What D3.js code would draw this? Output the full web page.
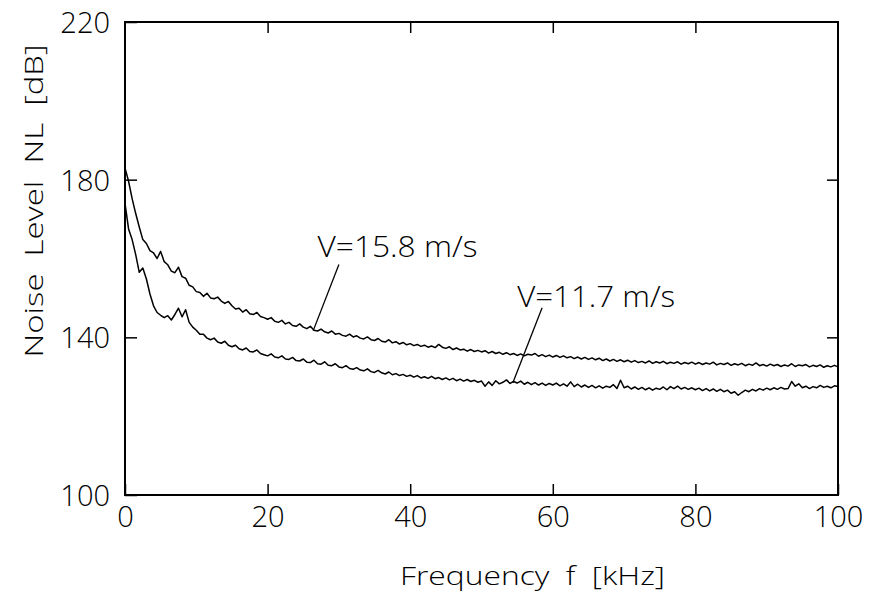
<!DOCTYPE html>
<html>
<head>
<meta charset="utf-8">
<script src="https://cdn.jsdelivr.net/npm/d3@7.9.0/dist/d3.min.js"></script>
<style>
  body { margin: 0; background: #fff; }
  svg text { font-family: "Open Sans", "DejaVu Sans", sans-serif; font-weight: 300; fill: #000; }
</style>
</head>
<body>
<svg id="chart" width="869" height="594"></svg>
<script>
// frequency grid step [kHz], values read every 0.5 kHz from 0 to 100
const fStep = 0.5;

// V = 15.8 m/s
const nl158 = [
  183.0, 179.6, 175.2, 171.4, 168.0, 164.8, 163.8, 162.0, 161.4, 160.0,
  161.8, 159.2, 158.4, 156.8, 156.4, 157.8, 155.4, 155.0, 153.2, 152.8,
  151.6, 151.4, 150.4, 151.2, 150.0, 149.8, 150.2, 149.2, 148.6, 149.1,
  148.0, 147.2, 147.4, 146.4, 147.0, 146.0, 145.8, 146.3, 145.3, 145.0,
  144.6, 145.0, 144.1, 143.8, 144.3, 143.4, 143.8, 143.0, 142.8, 143.4,
  142.6, 142.2, 142.8, 141.8, 141.6, 142.1, 141.4, 141.1, 141.6, 140.8,
  141.0, 140.5, 140.3, 140.8, 140.1, 140.4, 139.8, 139.6, 140.1, 139.4,
  139.2, 139.7, 139.0, 138.8, 139.4, 138.6, 138.9, 138.3, 138.7, 138.1,
  138.4, 137.9, 138.2, 137.7, 138.0, 137.5, 137.8, 137.4, 138.2, 137.5,
  137.2, 137.6, 136.9, 137.3, 136.8, 137.0, 136.5, 136.9, 136.4, 136.7,
  136.3, 136.6, 136.0, 136.4, 135.9, 136.2, 135.7, 136.1, 135.6, 135.9,
  135.4, 135.8, 135.3, 135.7, 135.5, 135.9, 135.2, 135.6, 135.1, 135.5,
  135.0, 135.4, 134.9, 135.3, 134.8, 135.1, 134.6, 135.0, 134.5, 134.9,
  134.4, 134.8, 134.3, 134.7, 134.1, 134.5, 134.0, 134.4, 133.9, 134.3,
  133.8, 134.2, 133.7, 134.1, 133.6, 133.9, 133.5, 134.0, 133.4, 133.8,
  133.5, 133.9, 133.3, 133.7, 133.4, 133.8, 133.2, 133.6, 133.3, 133.7,
  133.2, 133.6, 133.1, 133.5, 133.2, 133.7, 133.0, 133.4, 133.1, 133.5,
  132.9, 133.3, 133.0, 133.4, 132.8, 133.2, 132.9, 133.5, 132.8, 133.1,
  132.7, 133.2, 132.8, 133.1, 132.6, 133.0, 132.7, 133.3, 132.6, 133.0,
  132.8, 133.1, 132.5, 132.9, 132.6, 133.0, 132.4, 132.8, 132.5, 132.9,
  132.5
];

// V = 11.7 m/s
const nl117 = [
  174.0, 167.5, 164.8, 161.0, 156.5, 157.6, 154.8, 151.0, 148.0, 146.3,
  145.6, 145.0, 145.5, 144.4, 145.8, 147.4, 145.2, 147.0, 143.8, 142.6,
  141.8, 140.8, 140.8, 139.8, 139.4, 139.8, 138.8, 138.5, 139.0, 138.0,
  137.6, 138.0, 137.1, 136.8, 137.3, 136.4, 136.3, 136.8, 135.9, 135.6,
  135.3, 135.8, 135.0, 134.8, 135.3, 134.5, 134.4, 134.9, 134.1, 134.0,
  134.5, 133.7, 133.6, 134.2, 133.3, 133.2, 133.8, 132.9, 132.8, 133.3,
  132.5, 132.3, 132.8, 132.1, 131.9, 132.3, 131.7, 131.5, 132.0, 131.3,
  131.1, 131.6, 131.0, 130.7, 131.2, 130.5, 130.8, 130.3, 130.6, 130.1,
  130.4, 129.9, 130.3, 129.7, 130.0, 129.6, 130.1, 129.5, 129.8, 129.3,
  129.7, 129.2, 129.6, 129.0, 129.4, 128.9, 129.3, 128.8, 129.1, 128.6,
  128.9, 127.6, 128.7, 127.8, 129.0, 128.2, 128.6, 129.2, 128.3, 128.8,
  128.4, 128.9, 128.1, 128.6, 128.0, 128.5, 127.9, 128.4, 127.8, 128.3,
  127.9, 128.4, 127.7, 128.2, 127.6, 128.7, 127.5, 128.1, 127.4, 127.9,
  127.3, 127.8, 127.2, 127.7, 127.1, 127.6, 127.3, 128.0, 127.0, 129.1,
  127.2, 127.6, 126.9, 127.4, 126.8, 127.3, 126.7, 127.2, 126.6, 127.1,
  126.8, 127.4, 126.7, 127.5, 127.0, 127.6, 126.9, 127.3, 126.8, 127.2,
  126.7, 127.1, 126.5, 127.0, 126.4, 126.9, 126.3, 126.8, 126.2, 126.6,
  125.8, 126.2, 125.3, 126.0, 126.6, 126.2, 126.8, 126.4, 127.0, 126.6,
  127.1, 126.7, 127.2, 126.8, 127.3, 126.9, 127.0, 128.8, 127.6, 128.2,
  127.2, 127.6, 127.0, 127.5, 127.2, 127.8, 127.3, 127.6, 127.2, 127.7,
  127.5
];

const xTicks = [0, 20, 40, 60, 80, 100];
const yTicks = [100, 140, 180, 220];

// annotation: label text, label position, leader start, leader end (data units)
const notes = [
  { text: "V=15.8 m/s", f: 27.0, v: 160.3, f1: 30.0, v1: 158.5, f2: 26.4, v2: 141.7, w: 160 },
  { text: "V=11.7 m/s", f: 55.0, v: 147.8, f1: 58.5, v1: 147.5, f2: 54.4, v2: 128.5, w: 158 }
];

const svg = d3.select("#chart");
const margin = { left: 125, right: 31, top: 22, bottom: 99 };
const W = 869 - margin.left - margin.right;
const H = 594 - margin.top - margin.bottom;

const x = d3.scaleLinear().domain([0, 100]).range([0, W]);
const y = d3.scaleLinear().domain([100, 220]).range([H, 0]);

const g = svg.append("g").attr("transform", `translate(${margin.left},${margin.top})`);

// bottom axis, ticks pointing in
g.append("g").attr("transform", `translate(0,${H})`)
  .call(d3.axisBottom(x).tickValues(xTicks).tickSize(-11).tickPadding(11).tickFormat(d3.format("d")));
// top ticks
g.append("g")
  .call(d3.axisTop(x).tickValues(xTicks.slice(1, -1)).tickSize(-11).tickFormat(""));
// left axis
const yAxis = g.append("g")
  .call(d3.axisLeft(y).tickValues(yTicks).tickSize(-12).tickPadding(15).tickFormat(d3.format("d")));
// right ticks
g.append("g").attr("transform", `translate(${W},0)`)
  .call(d3.axisRight(y).tickValues(yTicks.slice(1, -1)).tickSize(-11).tickFormat(""));

g.selectAll(".domain").remove();
g.selectAll(".tick line").attr("stroke", "#000").attr("stroke-width", 1.5);
g.selectAll(".tick text")
  .attr("fill", "#000")
  .style("font-size", "29px")
  .style("font-family", "\"Open Sans\", \"DejaVu Sans\", sans-serif")
  .style("font-weight", 300);
yAxis.selectAll(".tick text").attr("dy", "0.36em");

// frame
g.append("rect")
  .attr("width", W).attr("height", H)
  .attr("fill", "none").attr("stroke", "#000").attr("stroke-width", 2);

// curves
const line = d3.line()
  .x((d, i) => x(i * fStep))
  .y(d => y(d));

[nl158, nl117].forEach(series => {
  g.append("path")
    .datum(series)
    .attr("fill", "none")
    .attr("stroke", "#000")
    .attr("stroke-width", 1.5)
    .attr("stroke-linejoin", "round")
    .attr("d", line);
});

// annotations
notes.forEach(n => {
  g.append("line")
    .attr("x1", x(n.f1)).attr("y1", y(n.v1))
    .attr("x2", x(n.f2)).attr("y2", y(n.v2))
    .attr("stroke", "#000").attr("stroke-width", 1.3);
  g.append("text")
    .attr("x", x(n.f)).attr("y", y(n.v))
    .attr("textLength", n.w).attr("lengthAdjust", "spacingAndGlyphs")
    .style("font-size", "30px")
    .text(n.text);
});

// axis titles
svg.append("text")
  .attr("x", 400).attr("y", 585)
  .attr("textLength", 265).attr("lengthAdjust", "spacingAndGlyphs")
  .style("font-size", "25px")
  .style("white-space", "pre")
  .text("Frequency  f  [kHz]");

svg.append("text")
  .attr("transform", "translate(43,201) rotate(-90)")
  .attr("text-anchor", "middle")
  .attr("textLength", 313).attr("lengthAdjust", "spacingAndGlyphs")
  .style("font-size", "26px")
  .style("white-space", "pre")
  .text("Noise  Level  NL  [dB]");
</script>
</body>
</html>
